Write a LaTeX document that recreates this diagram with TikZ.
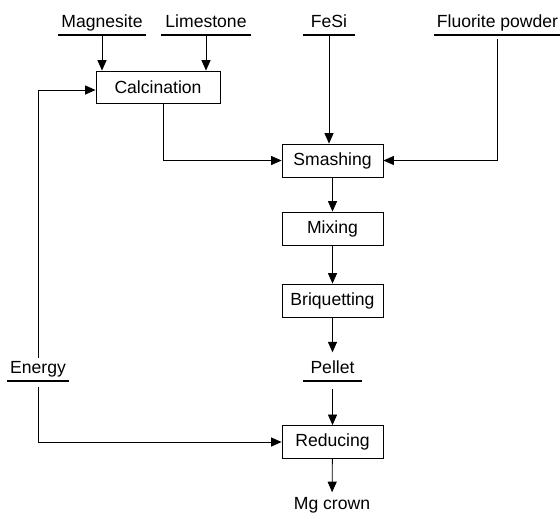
\documentclass[tikz,border=0pt]{standalone}
\usepackage{fontspec}
\setmainfont{Liberation Sans}
\usetikzlibrary{arrows.meta}

\begin{document}
\begin{tikzpicture}[x=0.025cm, y=-0.025cm, font=\fontsize{12.5}{15}\selectfont,
  box/.style={draw, line width=0.6pt, minimum width=2.525cm, minimum height=0.825cm, inner sep=0pt},
  feed/.style={inner sep=2pt, text height=9pt, text depth=3pt, anchor=south},
  flow/.style={line width=0.6pt, -{Triangle[length=7.5pt,width=6.5pt]}},
  bar/.style={line width=1.3pt}]

\useasboundingbox (0,0) rectangle (560,521);

% raw materials
\node[feed, minimum width=2.075cm] (mag) at (102,35) {Magnesite};
\node[feed, minimum width=2.25cm] (lime) at (206,35) {Limestone};
\node[feed, minimum width=1.3cm] (fesi) at (329,35) {FeSi};
\node[feed, minimum width=3.125cm] (fluor) at (497.5,35) {Fluorite powder};
\node[feed, minimum width=1.45cm] (energy) at (38,381) {Energy};
\node[feed, minimum width=1.475cm] (pellet) at (332.5,381) {Pellet};

\draw[bar] (mag.south west) -- (mag.south east);
\draw[bar] (lime.south west) -- (lime.south east);
\draw[bar] (fesi.south west) -- (fesi.south east);
\draw[bar] (fluor.south west) -- (fluor.south east);
\draw[bar] (energy.south west) -- (energy.south east);
\draw[bar] (pellet.south west) -- (pellet.south east);

% process steps
\node[box, minimum width=3.1cm, minimum height=0.8cm] (calc) at (158,87) {Calcination};
\node[box] (smash) at (332.5,160.5) {Smashing};
\node[box] (mix) at (332.5,228.5) {Mixing};
\node[box] (briq) at (332.5,300.5) {Briquetting};
\node[box] (reduce) at (332.5,442) {Reducing};
\node (crown) at (332,505) {Mg crown};

\draw[flow] (mag) -- (mag |- calc.north);
\draw[flow] (lime) -- (lime |- calc.north);
\draw[flow] (fesi) -- (fesi |- smash.north);
\draw[flow] ([xshift=0.125cm]calc.south) |- (smash.west);
\draw[flow, shorten <=3pt] (fluor.south) |- (smash.east);
\draw[flow] (smash) -- (mix);
\draw[flow] (mix) -- (briq);
\draw[flow, shorten >=4pt] (briq) -- (pellet.north);
\draw[flow, shorten <=6pt] (pellet.south) -- (reduce.north);
\draw[flow] (reduce) -- (crown);
\draw[flow] (energy.north) |- ([yshift=-0.075cm]calc.west);
\draw[flow, shorten <=4pt] (energy.south) |- (reduce.west);

\end{tikzpicture}
\end{document}
